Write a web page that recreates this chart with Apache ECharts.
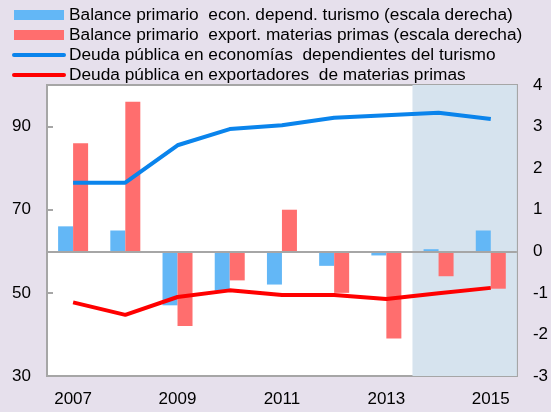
<!DOCTYPE html>
<html>
<head>
<meta charset="utf-8">
<script src="https://cdn.jsdelivr.net/npm/echarts@6/dist/echarts.min.js"></script>
<style>
  html, body { margin: 0; padding: 0; background: #e6e0ec; }
  #chart { width: 551px; height: 412px; }
</style>
</head>
<body>
<div id="chart"></div>
<script>
var years = ['2007', '2008', '2009', '2010', '2011', '2012', '2013', '2014', '2015'];
var balTurismo = [0.6, 0.5, -1.3, -0.95, -0.8, -0.35, -0.1, 0.05, 0.5];   // escala derecha
var balMaterias = [2.6, 3.6, -1.8, -0.7, 1.0, -1.0, -2.1, -0.6, -0.9];   // escala derecha
var deudaTurismo = [76.5, 76.5, 85.5, 89.4, 90.3, 92.1, 92.7, 93.3, 91.8];
var deudaMaterias = [47.7, 44.7, 49.0, 50.6, 49.5, 49.5, 48.5, 49.9, 51.2];
var leftTicks = [30, 50, 70, 90];
var proyeccion = ['2014', '2015'];

var names = [
  'Balance primario  econ. depend. turismo (escala derecha)',
  'Balance primario  export. materias primas (escala derecha)',
  'Deuda pública en economías  dependientes del turismo',
  'Deuda pública en exportadores  de materias primas'
];

var gris = '#a6a6a6';
var myChart = echarts.init(document.getElementById('chart'));
var option = {
  backgroundColor: '#e6e0ec',
  textStyle: { fontFamily: 'Liberation Sans, Arial, sans-serif' },
  legend: {
    orient: 'vertical',
    left: 7,
    top: 1,
    itemWidth: 50,
    itemHeight: 10,
    itemGap: 2,
    selectedMode: false,
    textStyle: { fontSize: 17.3, color: '#000', lineHeight: 18 },
    data: [
      { name: names[0], icon: 'rect' },
      { name: names[1], icon: 'rect' },
      { name: names[2], itemStyle: { color: 'rgba(0,0,0,0)', borderWidth: 0 },
        lineStyle: { width: 4, cap: 'round' } },
      { name: names[3], itemStyle: { color: 'rgba(0,0,0,0)', borderWidth: 0 },
        lineStyle: { width: 4, cap: 'round' } }
    ]
  },
  grid: {
    left: 47, right: 33, top: 85, bottom: 36,
    show: true, backgroundColor: '#fff', borderColor: gris, borderWidth: 2
  },
  xAxis: {
    type: 'category',
    data: years,
    boundaryGap: true,
    axisLine: { lineStyle: { color: gris, width: 2 } },
    axisTick: { interval: 0, length: 6, lineStyle: { color: gris, width: 2 } },
    axisLabel: { interval: 1, color: '#000', fontSize: 17, margin: 15 }
  },
  yAxis: [{
    type: 'value',
    min: 30, max: 100, interval: 20,
    axisLine: { show: true, lineStyle: { color: gris, width: 2 } },
    axisTick: { show: true, inside: true, length: 6, lineStyle: { color: gris, width: 2 } },
    splitLine: { show: false },
    axisLabel: {
      color: '#000', fontSize: 17, margin: 16,
      formatter: function (v) { return leftTicks.indexOf(v) >= 0 ? v : ''; }
    }
  }, {
    type: 'value',
    min: -3, max: 4, interval: 1,
    axisLine: { show: true, lineStyle: { color: gris, width: 2 } },
    axisTick: { show: true, inside: true, length: 6, lineStyle: { color: gris, width: 2 } },
    splitLine: { show: false },
    axisLabel: { color: '#000', fontSize: 17, margin: 16 }
  }],
  series: [{
    name: names[0],
    type: 'bar',
    yAxisIndex: 1,
    barWidth: 15,
    barGap: '0%',
    itemStyle: { color: '#63b7f6' },
    data: balTurismo,
    markArea: {
      silent: true,
      itemStyle: { color: '#d6e3ee' },
      data: [[{ xAxis: proyeccion[0] }, { xAxis: proyeccion[1] }]]
    },
    markLine: {
      silent: true, symbol: 'none', label: { show: false },
      lineStyle: { color: gris, width: 2, type: 'solid' },
      data: [{ yAxis: 0 }],
      z: 5
    }
  }, {
    name: names[1],
    type: 'bar',
    yAxisIndex: 1,
    barWidth: 15,
    barGap: '0%',
    itemStyle: { color: '#ff6e6e' },
    data: balMaterias
  }, {
    name: names[2],
    type: 'line',
    yAxisIndex: 0,
    symbol: 'none',
    z: 6,
    lineStyle: { color: '#0a84ec', width: 4 },
    itemStyle: { color: '#0a84ec' },
    data: deudaTurismo
  }, {
    name: names[3],
    type: 'line',
    yAxisIndex: 0,
    symbol: 'none',
    z: 6,
    lineStyle: { color: '#ff0000', width: 4 },
    itemStyle: { color: '#ff0000' },
    data: deudaMaterias
  }]
};
myChart.setOption(option);
</script>
</body>
</html>
